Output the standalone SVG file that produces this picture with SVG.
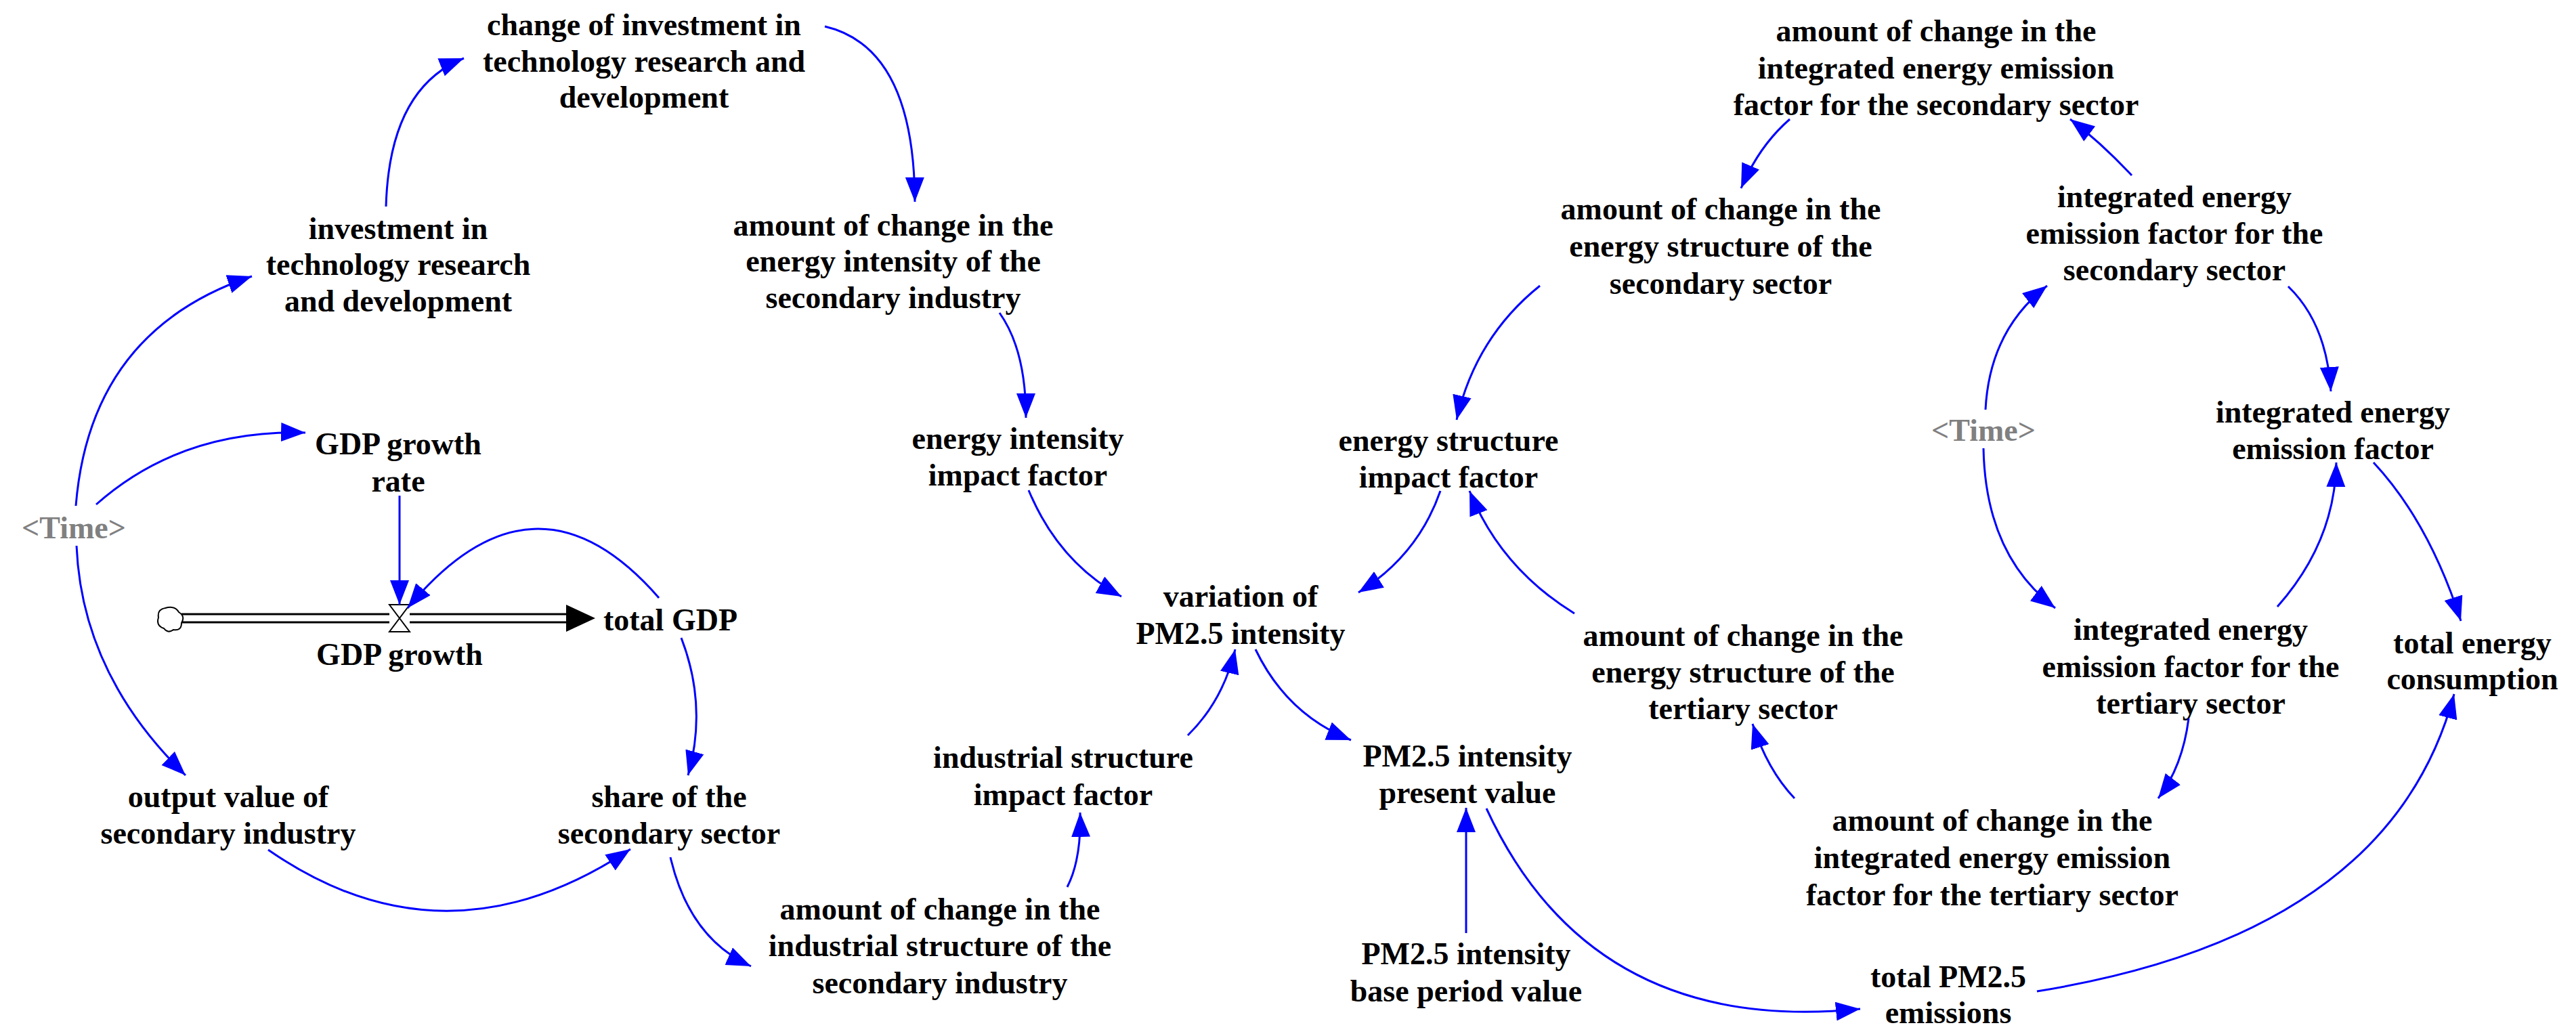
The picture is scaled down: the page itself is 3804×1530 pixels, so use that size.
<svg xmlns="http://www.w3.org/2000/svg" width="3804" height="1530" viewBox="0 0 3804 1530">
<style>
text{font-family:"Liberation Serif","Times New Roman",serif;font-weight:bold;font-size:46px;fill:#000;text-anchor:middle;dominant-baseline:central}
.g{fill:#808080}
.c{fill:none;stroke:#0000FF;stroke-width:3}
</style>
<defs>
<marker id="a" markerUnits="userSpaceOnUse" markerWidth="40" markerHeight="30" refX="36" refY="14" orient="auto"><path d="M0,0 L36,14 L0,28 Z" fill="#0000FF"/></marker>
</defs>
<rect width="3804" height="1530" fill="#fff"/>
<g id="nodes">
<g id="n1"><text x="951" y="36">change of investment in</text><text x="951" y="90">technology research and</text><text x="951" y="143">development</text></g>
<g id="n2"><text x="588" y="337">investment in</text><text x="588" y="390">technology research</text><text x="588" y="444">and development</text></g>
<g id="n3"><text x="1319" y="332">amount of change in the</text><text x="1319" y="385">energy intensity of the</text><text x="1319" y="439">secondary industry</text></g>
<g id="n4"><text x="1503" y="647">energy intensity</text><text x="1503" y="701">impact factor</text></g>
<g id="n5"><text x="588" y="655">GDP growth</text><text x="588" y="710">rate</text></g>
<g id="n6"><text class="g" x="109" y="779">&lt;Time&gt;</text></g>
<g id="n7"><text x="590" y="966">GDP growth</text>
<path d="M575,893 L605,893 L575,933 L605,933 Z" fill="#fff" stroke="#000" stroke-width="2"/></g>
<g id="n8"><text x="990" y="915">total GDP</text></g>
<g id="n9"><path d="M244,898 q-12,2 -10,14 q-4,12 8,16 q6,8 14,2 q12,2 12,-10 q6,-10 -4,-16 q-6,-10 -20,-6 Z" fill="#fff" stroke="#000" stroke-width="2"/></g>
<g id="n10"><text x="337" y="1176">output value of</text><text x="337" y="1230">secondary industry</text></g>
<g id="n11"><text x="988" y="1176">share of the</text><text x="988" y="1230">secondary sector</text></g>
<g id="n12"><text x="1570" y="1118">industrial structure</text><text x="1570" y="1173">impact factor</text></g>
<g id="n13"><text x="1388" y="1342">amount of change in the</text><text x="1388" y="1396">industrial structure of the</text><text x="1388" y="1451">secondary industry</text></g>
<g id="n14"><text x="1832" y="880">variation of</text><text x="1832" y="935">PM2.5 intensity</text></g>
<g id="n15"><text x="2859" y="45">amount of change in the</text><text x="2859" y="100">integrated energy emission</text><text x="2859" y="154">factor for the secondary sector</text></g>
<g id="n16"><text x="2541" y="308">amount of change in the</text><text x="2541" y="363">energy structure of the</text><text x="2541" y="418">secondary sector</text></g>
<g id="n17"><text x="3211" y="290">integrated energy</text><text x="3211" y="344">emission factor for the</text><text x="3211" y="398">secondary sector</text></g>
<g id="n18"><text x="2139" y="650">energy structure</text><text x="2139" y="704">impact factor</text></g>
<g id="n19"><text class="g" x="2929" y="635">&lt;Time&gt;</text></g>
<g id="n20"><text x="3445" y="608">integrated energy</text><text x="3445" y="662">emission factor</text></g>
<g id="n21"><text x="2574" y="938">amount of change in the</text><text x="2574" y="992">energy structure of the</text><text x="2574" y="1046">tertiary sector</text></g>
<g id="n22"><text x="3235" y="929">integrated energy</text><text x="3235" y="984">emission factor for the</text><text x="3235" y="1038">tertiary sector</text></g>
<g id="n23"><text x="3651" y="949">total energy</text><text x="3651" y="1002">consumption</text></g>
<g id="n24"><text x="2167" y="1116">PM2.5 intensity</text><text x="2167" y="1170">present value</text></g>
<g id="n25"><text x="2942" y="1211">amount of change in the</text><text x="2942" y="1266">integrated energy emission</text><text x="2942" y="1321">factor for the tertiary sector</text></g>
<g id="n26"><text x="2165" y="1408">PM2.5 intensity</text><text x="2165" y="1463">base period value</text></g>
<g id="n27"><text x="2877" y="1442">total PM2.5</text><text x="2877" y="1495">emissions</text></g>
</g>
<g id="connectors">
<g id="flow">
<path d="M268,907 L575,907 M605,907 L838,907 M268,919 L575,919 M605,919 L838,919" stroke="#000" stroke-width="3" fill="none"/>
<path d="M836,893 L879,913 L836,933 Z" fill="#000"/>
</g>
<path class="c" marker-end="url(#a)" d="M570,305 Q575,130 685,86"/>
<path class="c" marker-end="url(#a)" d="M1218,39 Q1350,70 1351,298"/>
<path class="c" marker-end="url(#a)" d="M1476,462 Q1515,517 1515,617"/>
<path class="c" marker-end="url(#a)" d="M1519,724 Q1563,830 1656,881"/>
<path class="c" marker-end="url(#a)" d="M112,747 Q133,488 372,408"/>
<path class="c" marker-end="url(#a)" d="M142,745 Q267,634 451,639"/>
<path class="c" marker-end="url(#a)" d="M113,806 Q121,996 274,1145"/>
<path class="c" marker-end="url(#a)" d="M590,732 L590,893"/>
<path class="c" marker-end="url(#a)" d="M973,883 Q789,672 602,898"/>
<path class="c" marker-end="url(#a)" d="M1006,942 Q1045,1043 1016,1145"/>
<path class="c" marker-end="url(#a)" d="M396,1255 Q657,1436 931,1254"/>
<path class="c" marker-end="url(#a)" d="M990,1266 Q1018,1386 1109,1427"/>
<path class="c" marker-end="url(#a)" d="M1576,1310 Q1597,1269 1595,1200"/>
<path class="c" marker-end="url(#a)" d="M1754,1086 Q1806,1035 1824,959"/>
<path class="c" marker-end="url(#a)" d="M1854,959 Q1900,1055 1995,1093"/>
<path class="c" marker-end="url(#a)" d="M2127,725 Q2094,820 2006,875"/>
<path class="c" marker-end="url(#a)" d="M2325,906 Q2216,839 2170,725"/>
<path class="c" marker-end="url(#a)" d="M2274,422 Q2179,498 2151,620"/>
<path class="c" marker-end="url(#a)" d="M2643,176 Q2598,215 2571,278"/>
<path class="c" marker-end="url(#a)" d="M3148,259 Q3102,210 3057,176"/>
<path class="c" marker-end="url(#a)" d="M3379,423 Q3436,478 3442,578"/>
<path class="c" marker-end="url(#a)" d="M2932,605 Q2938,488 3023,422"/>
<path class="c" marker-end="url(#a)" d="M2929,662 Q2932,820 3035,898"/>
<path class="c" marker-end="url(#a)" d="M3363,896 Q3448,800 3450,683"/>
<path class="c" marker-end="url(#a)" d="M3505,683 Q3587,771 3634,917"/>
<path class="c" marker-end="url(#a)" d="M3232,1061 Q3223,1132 3187,1179"/>
<path class="c" marker-end="url(#a)" d="M2650,1179 Q2610,1137 2588,1069"/>
<path class="c" marker-end="url(#a)" d="M2195,1194 Q2350,1530 2747,1490"/>
<path class="c" marker-end="url(#a)" d="M2165,1378 L2165,1193"/>
<path class="c" marker-end="url(#a)" d="M3008,1464 Q3530,1380 3624,1025"/>
</g>
</svg>
